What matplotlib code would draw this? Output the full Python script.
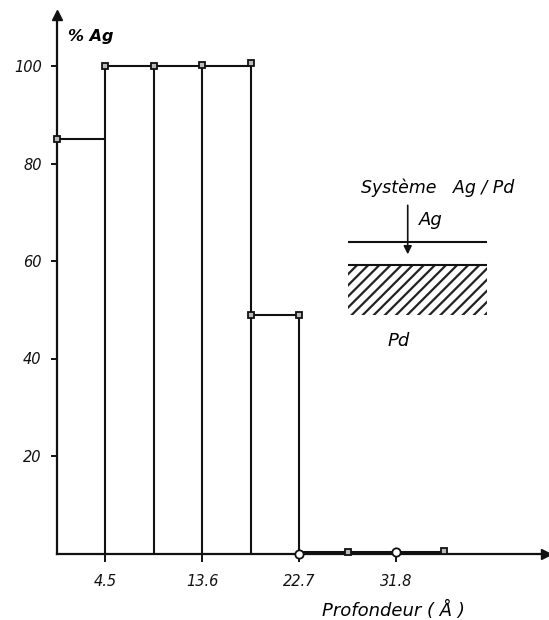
import matplotlib.pyplot as plt
import matplotlib.patches as mpatches
from matplotlib import rcParams

rcParams['font.family'] = 'DejaVu Sans'
rcParams['hatch.linewidth'] = 1.6

# layer edges (Angstrom) and % Ag in each layer
depth_edges = [0, 4.5, 9.1, 13.6, 18.2, 22.7]
ag_percent = [85, 100, 100, 100, 49]

# measured points
square_x = [0, 4.5, 9.1, 13.6, 18.2, 18.2, 22.7, 27.3, 36.3]
square_y = [85, 100, 100, 100.3, 100.6, 49, 49, 0.3, 0.6]
circle_x = [22.7, 31.8]
circle_y = [0, 0.3]

xticks = [4.5, 13.6, 22.7, 31.8]
xtick_labels = ['4.5', '13.6', '22.7', '31.8']
yticks = [20, 40, 60, 80, 100]

fig = plt.figure(figsize=(5.49, 6.2), dpi=100)
W, H = 549, 620
x0, y0 = 57, 66.5
ax = fig.add_axes([x0 / W, y0 / H, (546 - x0) / W, (605 - y0) / H])
ax.set_xlim(0, (546 - x0) / 10.66)
ax.set_ylim(0, (605 - y0) / 4.875)

for s in ['top', 'right']:
    ax.spines[s].set_visible(False)
for s in ['left', 'bottom']:
    ax.spines[s].set_linewidth(1.6)
    ax.spines[s].set_color('#111111')

# arrow heads on axes
ax.plot(1, 0, '>', color='#111111', ms=7, transform=ax.transAxes, clip_on=False)
ax.plot(0, 1, '^', color='#111111', ms=7, transform=ax.transAxes, clip_on=False)

ax.set_xticks(xticks)
ax.set_xticklabels(xtick_labels, fontstyle='italic', fontsize=10.5)
ax.set_yticks(yticks)
ax.set_yticklabels([str(v) for v in yticks], fontstyle='italic', fontsize=10.5)
ax.tick_params(axis='x', direction='out', length=6, width=1.4, pad=9, colors='#111111')
ax.tick_params(axis='y', direction='out', length=4, width=1.4, pad=7, colors='#111111')

# step profile
lw = 1.5
for i, v in enumerate(ag_percent):
    ax.hlines(v, depth_edges[i], depth_edges[i + 1], color='#111111', lw=lw)
for i in range(1, len(depth_edges)):
    left = ag_percent[i - 1]
    right = ag_percent[i] if i < len(ag_percent) else 0
    ax.vlines(depth_edges[i], 0, max(left, right), color='#111111', lw=lw)
ax.hlines(0.3, 22.7, 36.3, color='#111111', lw=2.2)

ax.plot(square_x, square_y, 's', ms=5, mfc='#bbbbbb', mec='#111111', mew=1.3,
        clip_on=False, zorder=5)
ax.plot(circle_x, circle_y, 'o', ms=6, mfc='white', mec='#111111', mew=1.3,
        clip_on=False, zorder=5)

ax.text(1.0, 106, '% Ag', fontsize=11.5, fontstyle='italic', fontweight='bold',
        va='center', ha='left')
ax.text(24.9, -11.6, 'Profondeur ( Å )', fontsize=13, fontstyle='italic',
        va='center', ha='left')

# inset sketch of the Ag/Pd system
ax.text(35.7, 75, 'Système   Ag / Pd', fontsize=12.5, fontstyle='italic',
        va='center', ha='center')
ax.text(34.0, 68.4, 'Ag', fontsize=13, fontstyle='italic', va='center', ha='left')
ax.text(31.0, 43.6, 'Pd', fontsize=13, fontstyle='italic', va='center', ha='left')
ax.hlines(63.9, 27.3, 40.3, color='#111111', lw=1.5)
ax.hlines(59.2, 27.3, 40.3, color='#111111', lw=1.5)
ax.annotate('', xy=(32.9, 60.8), xytext=(32.9, 72),
            arrowprops=dict(arrowstyle='-|>', color='#111111', lw=1.2,
                            mutation_scale=12))
ax.add_patch(mpatches.Rectangle((27.3, 48.9), 13.0, 10.3, fill=False,
                                hatch='///', edgecolor='#222222', lw=0))

plt.savefig('out.png', dpi=100)
